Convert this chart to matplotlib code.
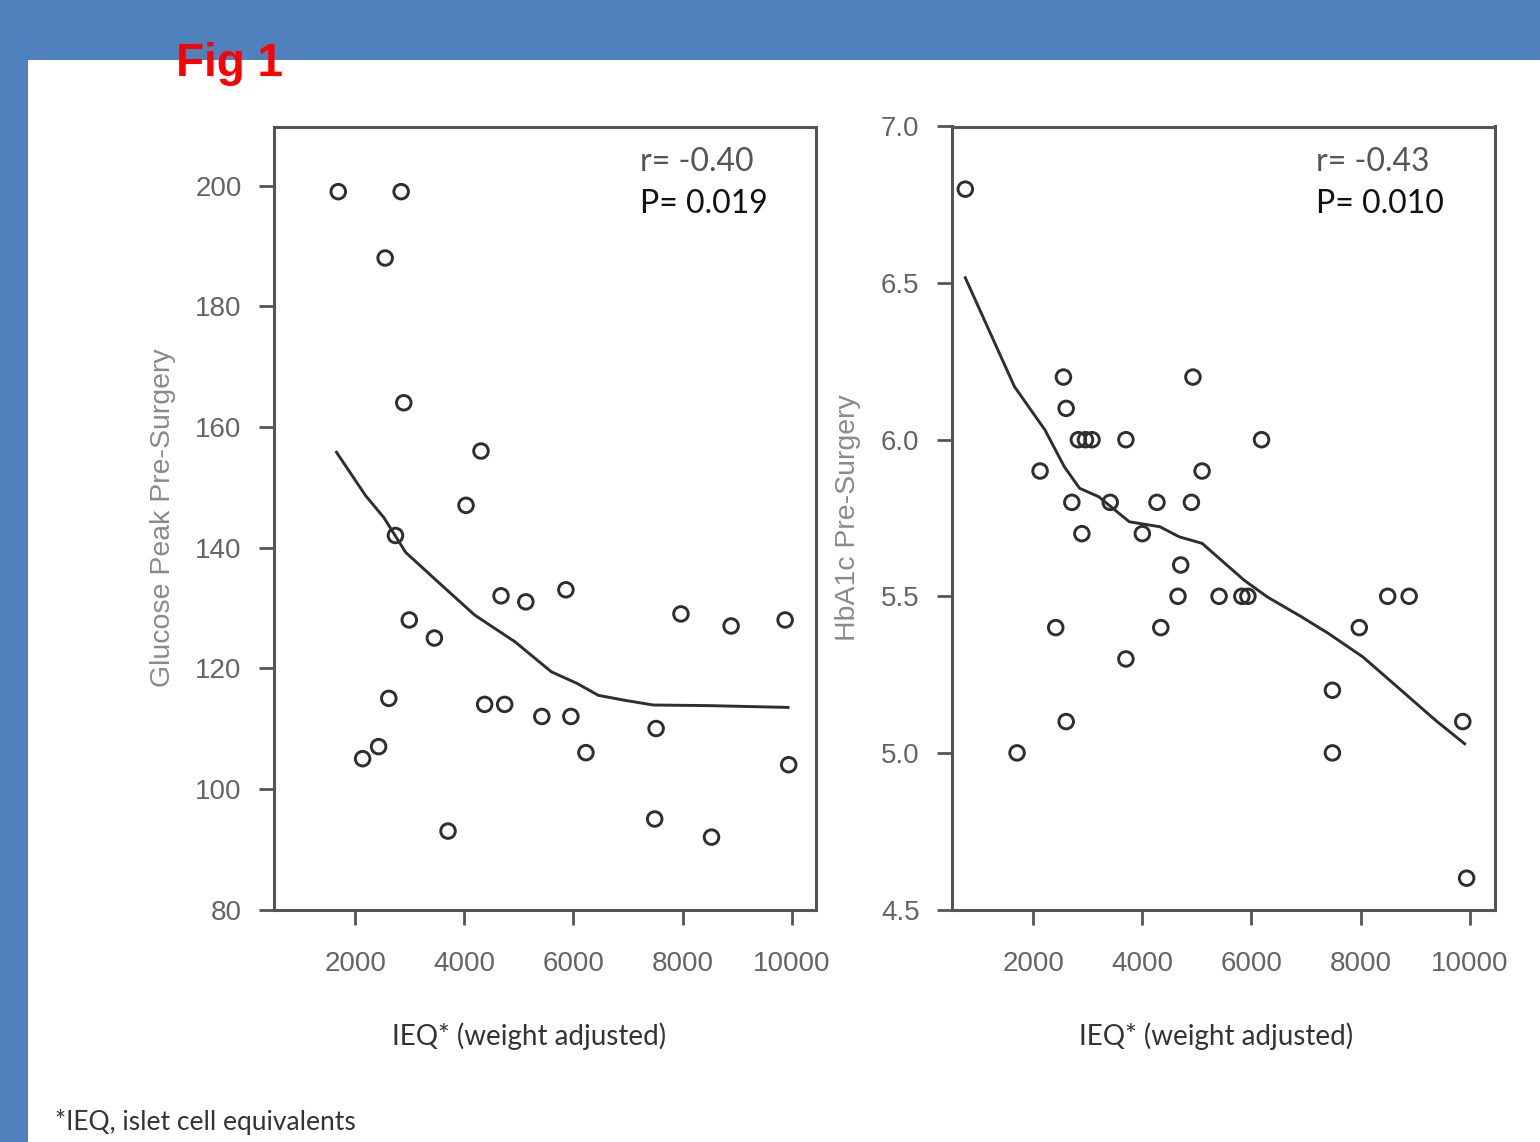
import matplotlib
matplotlib.use("Agg")
import matplotlib.pyplot as plt
from matplotlib.patches import Rectangle

# ---------------- data ----------------
ieq_glucose = [1692, 2844, 2551, 2892, 4307, 4033, 2740, 4674, 5129, 5863,
               2993, 3453, 7971, 8890, 9880, 2618, 4374, 4741, 5422, 5954,
               7516, 6230, 2431, 2138, 9946, 3703, 7490, 8531]
glucose_peak = [199, 199, 188, 164, 156, 147, 142, 132, 131, 133,
                128, 125, 129, 127, 128, 115, 114, 114, 112, 112,
                110, 106, 107, 105, 104, 93, 95, 92]

smooth_glucose_x = [1659, 2193, 2525, 2740, 2927, 3593, 4193, 4927, 5597,
                    6063, 6459, 6929, 7463, 8465, 9933]
smooth_glucose_y = [155.8, 148.6, 145.0, 141.9, 139.2, 133.7, 128.8, 124.4,
                    119.4, 117.5, 115.5, 114.7, 113.9, 113.8, 113.5]

ieq_hba1c = [758, 2556, 4929, 2606, 2830, 2960, 3080, 3701, 6186, 2128,
             5097, 2710, 3413, 4270, 4901, 2894, 4002, 4705, 4655, 5408,
             5826, 5936, 8498, 8891, 2415, 4340, 7977, 3701, 7485, 2606,
             9874, 1706, 7485, 9944]
hba1c = [6.8, 6.2, 6.2, 6.1, 6.0, 6.0, 6.0, 6.0, 6.0, 5.9,
         5.9, 5.8, 5.8, 5.8, 5.8, 5.7, 5.7, 5.6, 5.5, 5.5,
         5.5, 5.5, 5.5, 5.5, 5.4, 5.4, 5.4, 5.3, 5.2, 5.1,
         5.1, 5.0, 5.0, 4.6]

smooth_hba1c_x = [758, 1657, 2218, 2571, 2851, 3202, 3763, 4325, 4677, 5097,
                  5450, 5870, 6292, 6923, 7415, 8046, 8679, 9382, 9909]
smooth_hba1c_y = [6.517, 6.170, 6.031, 5.914, 5.845, 5.818, 5.738, 5.722,
                  5.690, 5.669, 5.615, 5.551, 5.498, 5.434, 5.381, 5.306,
                  5.210, 5.103, 5.029]

x_ticks = [2000, 4000, 6000, 8000, 10000]
glucose_ticks = [80, 100, 120, 140, 160, 180, 200]
hba1c_ticks = [4.5, 5.0, 5.5, 6.0, 6.5, 7.0]
hba1c_ticklabels = ["4.5", "5.0", "5.5", "6.0", "6.5", "7.0"]

stats_left = ["r= -0.40", "P= 0.019"]
stats_right = ["r= -0.43", "P= 0.010"]

# ---------------- figure ----------------
W, H = 1540, 1142
fig = plt.figure(figsize=(W / 100, H / 100), dpi=100)
fig.patch.set_facecolor("#4F81BD")
fig.patches.append(Rectangle((28 / W, 0), 1 - 28 / W, 1 - 60 / H,
                             transform=fig.transFigure, facecolor="white",
                             edgecolor="none", zorder=-5))

def px(x0, y0, x1, y1):
    return [x0 / W, 1 - y1 / H, (x1 - x0) / W, (y1 - y0) / H]

ax1 = fig.add_axes(px(273.5, 126.5, 816.5, 909.5))
ax2 = fig.add_axes(px(951.5, 126.5, 1494.5, 909.5))

spine_col = "#555555"
tick_col = "#646464"
label_col = "#8a8a8a"
mark_col = "#2e2e2e"

for ax in (ax1, ax2):
    ax.set_zorder(2)
    ax.set_facecolor("white")
    for s in ax.spines.values():
        s.set_color(spine_col)
        s.set_linewidth(2.2)
    ax.tick_params(axis="both", direction="out", length=11, width=2.0,
                   color=spine_col, labelcolor=tick_col, labelsize=20, pad=12)
    ax.tick_params(axis="x", pad=19)
    ax.set_xticks(x_ticks)
    ax.set_xticklabels([str(v) for v in x_ticks], family="Liberation Sans")

ax1.scatter(ieq_glucose, glucose_peak, s=110, facecolors="none",
            edgecolors=mark_col, linewidths=2.1, zorder=3)
ax1.plot(smooth_glucose_x, smooth_glucose_y, color=mark_col, lw=2.1, zorder=2)
ax1.set_xlim(505, 10455)
ax1.set_ylim(80, 209.8)
ax1.set_yticks(glucose_ticks)
ax1.set_yticklabels([str(v) for v in glucose_ticks], family="Liberation Sans")
ax1.set_ylabel("Glucose Peak Pre-Surgery", fontsize=20.5, color=label_col,
               family="Liberation Sans", labelpad=14)

ax2.scatter(ieq_hba1c, hba1c, s=110, facecolors="none",
            edgecolors=mark_col, linewidths=2.1, zorder=3)
ax2.plot(smooth_hba1c_x, smooth_hba1c_y, color=mark_col, lw=2.1, zorder=2)
ax2.set_xlim(505, 10455)
ax2.set_ylim(4.5, 7.0)
ax2.set_yticks(hba1c_ticks)
ax2.set_yticklabels(hba1c_ticklabels, family="Liberation Sans")
ax2.set_ylabel("HbA1c Pre-Surgery", fontsize=20.5, color=label_col,
               family="Liberation Sans", labelpad=14)

# stats text
for (xl, lines) in ((640, stats_left), (1316, stats_right)):
    fig.text(xl / W, 1 - 162 / H, lines[0], fontsize=23, color="#555555",
             family="Lato", ha="left", va="center", zorder=5)
    fig.text(xl / W, 1 - 204 / H, lines[1], fontsize=23, color="#111111",
             family="Lato", ha="left", va="center", zorder=5)

# x labels
for xc in (529, 1216):
    fig.text(xc / W, 1 - 1036 / H, "IEQ* (weight adjusted)", fontsize=20,
             color="#333333", family="Lato", ha="center", va="center")

fig.text(55 / W, 1 - 1122 / H, "*IEQ, islet cell equivalents", fontsize=19,
         color="#333333", family="Lato", ha="left", va="center")

fig.text(176 / W, 1 - 76 / H, "Fig 1", fontsize=33, color="#FF0000",
         fontweight="bold", family="Liberation Sans", ha="left",
         va="baseline", zorder=5)

fig.savefig("out.png", dpi=100, facecolor=fig.get_facecolor())
